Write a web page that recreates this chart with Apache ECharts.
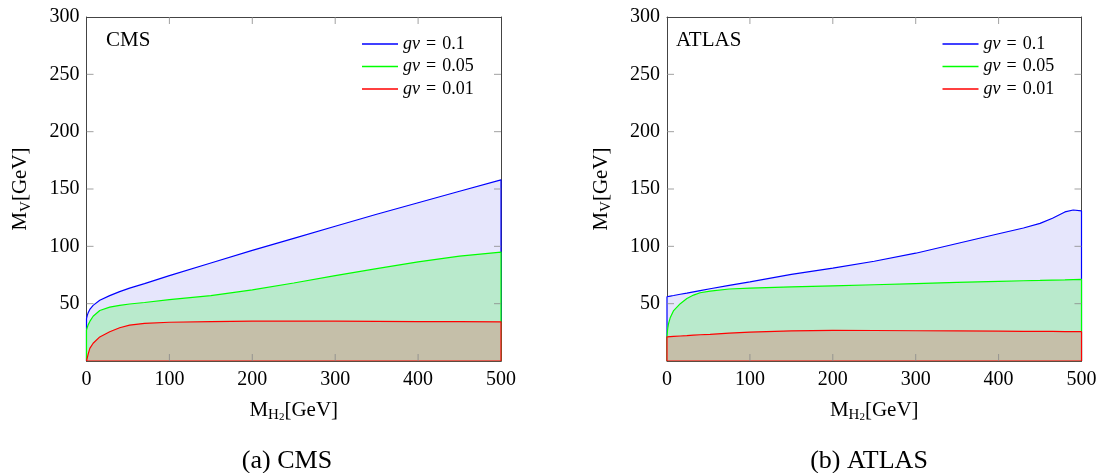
<!DOCTYPE html>
<html>
<head>
	<meta charset="utf-8">
	<title></title>
	<style>
		html, body { margin: 0; padding: 0; background: #fff; }
		#box { width: 1101px; height: 473px; }
	</style>
</head>
<body>
	<div id="box"></div>
</body>
<script src="https://cdn.jsdelivr.net/npm/echarts@6/dist/echarts.min.js"></script>
<script>
	var font = "'Liberation Serif', 'DejaVu Serif', serif";

	// CMS panel
	var cmsX = [0, 1, 2, 4, 8, 16, 28, 40, 52, 70, 100, 150, 200, 250, 300, 350, 400, 450, 500];
	var cmsBlue = [37, 40, 42, 45, 48.5, 53, 57, 60.5, 63.5, 67.5, 74.5, 85.5, 96.5, 107, 117.5, 128, 138, 148, 158];
	var cmsGreen = [27, 29.5, 31.5, 34.5, 39, 44, 47, 48.5, 49.7, 51, 53.5, 57, 62, 68, 74.5, 80.5, 86.5, 91.5, 95];
	var cmsRed = [0, 3, 6, 11, 15.5, 21, 25.5, 29, 31.3, 32.8, 33.8, 34.4, 34.7, 34.8, 34.7, 34.6, 34.4, 34.3, 34.2];

	// ATLAS panel
	var atlasX = [0, 0.5, 1, 2, 4, 8, 16, 24, 32, 40, 52, 75, 100, 150, 200, 250, 300, 350, 400, 430, 450, 465, 480, 490, 500];
	var atlasBlue = [56, 56.1, 56.2, 56.3, 56.6, 57.1, 58.2, 59.2, 60.3, 61.4, 63, 66, 69, 75.5, 81, 87, 94, 102.5, 111, 116, 120, 124.5, 130, 131.7, 131];
	var atlasGreen = [21, 26, 29, 33, 38, 44, 50, 54.5, 57.5, 59.5, 61, 62.8, 63.6, 64.6, 65.5, 66.5, 67.5, 68.5, 69.5, 70, 70.3, 70.6, 70.8, 71, 71.2];
	var atlasRed = [21, 21.1, 21.1, 21.2, 21.3, 21.5, 21.8, 22.1, 22.5, 22.9, 23.3, 24.3, 25.2, 26.3, 26.7, 26.6, 26.4, 26.2, 26, 25.9, 25.8, 25.8, 25.7, 25.7, 25.6];

	var names = ['gv = 0.1', 'gv = 0.05', 'gv = 0.01'];
	var lineColors = ['#0000ff', '#00ff00', '#ff0000'];
	var fillColors = ['#e6e6fc', '#b9eacc', '#c5bfa9'];
	var xTicks = { min: 0, max: 500, interval: 100 };
	var yTicks = { min: 0, max: 300, interval: 50 };
	var xTickVals = [100, 200, 300, 400];
	var yTickVals = [50, 100, 150, 200, 250];

	// closed path: from the origin, along the curve, down the right edge and back along the bottom
	function closed(xs, ys) {
		var d = [[xTicks.min, 0]];
		for (var i = 0; i < xs.length; i++) d.push([xs[i], ys[i]]);
		d.push([xTicks.max, 0]);
		d.push([xTicks.min, 0]);
		return d;
	}

	var myChart = echarts.init(document.getElementById('box'));

	function box(left) {
		return { left: left, top: 17, width: 414.5, height: 344 };
	}
	var grids = [box(86.5), box(667)];

	var nameRich = {
		m: { fontFamily: font, fontSize: 21, lineHeight: 26, color: '#000' },
		s: { fontFamily: font, fontSize: 15, lineHeight: 12, verticalAlign: 'bottom', color: '#000' },
		ss: { fontFamily: font, fontSize: 11, lineHeight: 4, verticalAlign: 'bottom', color: '#000' }
	};

	function frame() { return { show: true, onZero: false, lineStyle: { color: '#444', width: 1 } }; }

	var xAxes = [], yAxes = [];
	for (var g = 0; g < 2; g++) {
		xAxes.push({
			gridIndex: g, type: 'value', position: 'bottom',
			min: xTicks.min, max: xTicks.max, interval: xTicks.interval,
			name: '{m|M}{s|H}{ss|2}{m|[GeV]}',
			nameLocation: 'middle', nameGap: 36,
			nameTextStyle: { rich: nameRich },
			axisLine: frame(), axisTick: { show: false },
			axisLabel: { fontFamily: font, fontSize: 20, color: '#000', margin: 9 },
			splitLine: { show: false }
		});
		xAxes.push({
			gridIndex: g, type: 'value', position: 'top',
			min: xTicks.min, max: xTicks.max, interval: xTicks.interval,
			axisLine: frame(), axisTick: { show: false }, axisLabel: { show: false },
			splitLine: { show: false }
		});
		yAxes.push({
			gridIndex: g, type: 'value', position: 'left',
			min: yTicks.min, max: yTicks.max, interval: yTicks.interval,
			name: '{m|M}{s|V}{m|[GeV]}',
			nameLocation: 'middle', nameGap: 53,
			nameTextStyle: { rich: nameRich },
			axisLine: frame(), axisTick: { show: false },
			axisLabel: {
				fontFamily: font, fontSize: 20, color: '#000', margin: 7,
				formatter: function (v) { return v === 0 ? '' : v; }
			},
			splitLine: { show: false }
		});
		yAxes.push({
			gridIndex: g, type: 'value', position: 'right',
			min: yTicks.min, max: yTicks.max, interval: yTicks.interval,
			axisLine: frame(), axisTick: { show: false }, axisLabel: { show: false },
			splitLine: { show: false }
		});
	}

	var panels = [
		[cmsX, [cmsBlue, cmsGreen, cmsRed]],
		[atlasX, [atlasBlue, atlasGreen, atlasRed]]
	];
	var series = [];
	for (var p = 0; p < panels.length; p++) {
		for (var k = 0; k < 3; k++) {
			series.push({
				name: names[k],
				type: 'line',
				xAxisIndex: p * 2,
				yAxisIndex: p * 2,
				data: closed(panels[p][0], panels[p][1][k]),
				showSymbol: false,
				symbol: 'none',
				smooth: false,
				z: 2 + k,
				color: lineColors[k],
				lineStyle: { color: lineColors[k], width: 1.2 },
				areaStyle: { color: fillColors[k], opacity: 1, origin: 'start' },
				emphasis: { disabled: true },
				silent: true
			});
		}
	}

	// inward tick marks on all four sides, placed on the axes' own scale above the fills
	function tickSeries(p, data, size, offset) {
		return {
			type: 'scatter', xAxisIndex: p * 2, yAxisIndex: p * 2,
			data: data, symbol: 'rect', symbolSize: size, symbolOffset: offset,
			itemStyle: { color: '#8a8a8a' }, clip: false, z: 10, silent: true,
			emphasis: { disabled: true }
		};
	}
	for (var p = 0; p < 2; p++) {
		series.push(tickSeries(p, xTickVals.map(function (v) { return [v, yTicks.min]; }), [1, 7], [0, -3.5]));
		series.push(tickSeries(p, xTickVals.map(function (v) { return [v, yTicks.max]; }), [1, 7], [0, 3.5]));
		series.push(tickSeries(p, yTickVals.map(function (v) { return [xTicks.min, v]; }), [7, 1], [3.5, 0]));
		series.push(tickSeries(p, yTickVals.map(function (v) { return [xTicks.max, v]; }), [7, 1], [-3.5, 0]));
	}

	function legendAt(left) {
		return {
			left: left, top: 33, orient: 'vertical', padding: 0,
			data: names,
			icon: 'rect', itemWidth: 36, itemHeight: 1.5, itemGap: 0.5,
			selectedMode: false,
			formatter: function (n) {
				var parts = n.split(' = ');
				return '{i|' + parts[0] + '}{t|=}{t|' + parts[1] + '}';
			},
			textStyle: {
				fontFamily: font, fontSize: 18, lineHeight: 22, color: '#000',
				rich: {
					i: { fontFamily: font, fontSize: 18, fontStyle: 'italic', lineHeight: 22 },
					t: { fontFamily: font, fontSize: 18, lineHeight: 22, padding: [0, 0, 0, 6] }
				}
			}
		};
	}

	var option = {
		animation: false,
		grid: grids,
		xAxis: xAxes,
		yAxis: yAxes,
		legend: [legendAt(362), legendAt(942.5)],
		series: series,
		graphic: [
			{ type: 'text', left: 106, top: 30, style: { text: 'CMS', font: '21px ' + font, fill: '#000' } },
			{ type: 'text', left: 676, top: 30, style: { text: 'ATLAS', font: '21px ' + font, fill: '#000' } },
			{ type: 'text', x: 287, y: 461, style: { text: '(a) CMS', font: '26px ' + font, fill: '#000', align: 'center', verticalAlign: 'middle' } },
			{ type: 'text', x: 869, y: 461, style: { text: '(b) ATLAS', font: '26px ' + font, fill: '#000', align: 'center', verticalAlign: 'middle' } }
		]
	};
	myChart.setOption(option);
</script>
</html>
